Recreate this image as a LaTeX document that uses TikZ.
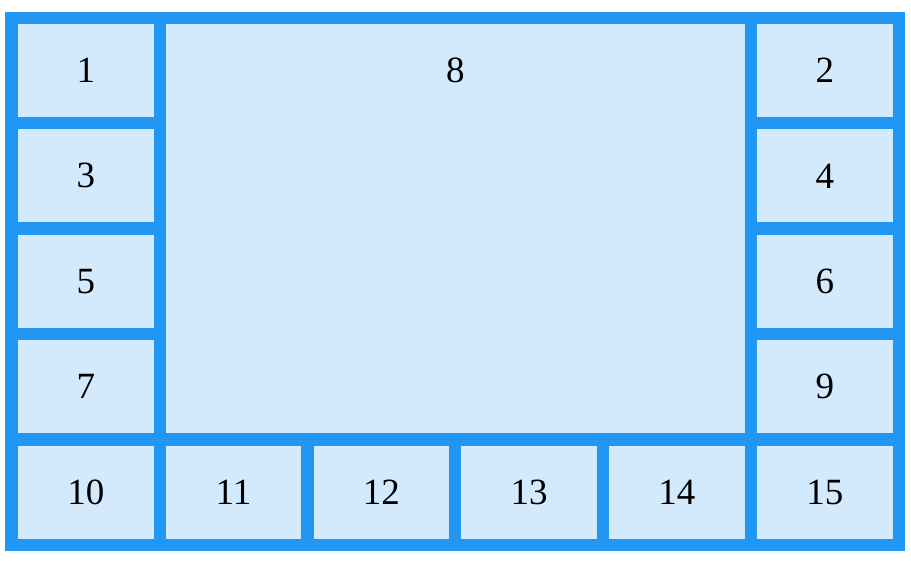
\documentclass[tikz,border=0pt]{standalone}
\usepackage{fontspec}
\setmainfont{Liberation Serif}
\usetikzlibrary{positioning}
\usepackage{xcolor}

\definecolor{gridblue}{RGB}{33,150,243}
\definecolor{cellblue}{RGB}{211,234,253}

\tikzset{
    cell/.style={fill=cellblue, inner sep=0pt, minimum width=135.5bp,
        minimum height=93bp, font=\fontsize{37bp}{44bp}\selectfont},
}

\begin{document}
\begin{tikzpicture}[x=1bp, y=-1bp]

    \useasboundingbox (0,0) rectangle (911,561);

    %frame
    \fill [gridblue] (5,12) rectangle (905,551);

    %left column
    \foreach \n/\j in {1/0,3/1,5/2,7/3}
        \node (c\n) [cell] at (85.75, 70.5+105.4*\j) {\n};

    %right column
    \foreach \n/\j in {2/0,4/1,6/2,9/3}
        \node (c\n) [cell] at (824.75, 70.5+105.4*\j) {\n};

    %bottom row
    \foreach \n/\i in {10/0,11/1,12/2,13/3,14/4,15/5}
        \node (c\n) [cell] at (85.75+147.8*\i, 492.1) {\n};

    %middle
    \node (c8) [cell, minimum width=578.9bp, minimum height=409.2bp,
        label={[anchor=center, yshift=-46.5bp, font=\fontsize{37bp}{44bp}\selectfont]north:8}]
        at (455.25,228.6) {};

\end{tikzpicture}
\end{document}
